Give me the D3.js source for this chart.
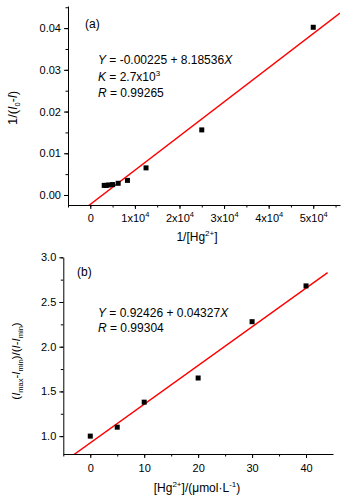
<!DOCTYPE html>
<html>
<head>
<meta charset="utf-8">
<script src="https://cdn.jsdelivr.net/npm/d3@7"></script>
<style>
  body { margin: 0; background: #fff; }
  svg { font-family: "Liberation Sans", Arial, sans-serif; }
</style>
</head>
<body>
<div id="chart"></div>
<script>
// ---- panel (a): double reciprocal plot ----
const recipHg = [3125, 3571, 4167, 5000, 6250, 8333, 12500, 25000, 50000];
const recipI = [0.0023, 0.0023, 0.0024, 0.0025, 0.0028, 0.0035, 0.0065, 0.0156, 0.0402];
const fitA = { intercept: -0.00225, slope: 8.18536e-7 };
const xTicksA = [0, 10000, 20000, 30000, 40000, 50000];
const yTicksA = [0.00, 0.01, 0.02, 0.03, 0.04];

// ---- panel (b): linear plot ----
const hgConc = [0, 5, 10, 20, 30, 40];
const ratioI = [1.00, 1.10, 1.38, 1.65, 2.28, 2.68];
const fitB = { intercept: 0.92426, slope: 0.04327 };
const xTicksB = [0, 10, 20, 30, 40];
const yTicksB = [1.0, 1.5, 2.0, 2.5, 3.0];

const W = 345, H = 502;
const svg = d3.select("#chart").append("svg").attr("width", W).attr("height", H);

function panel(o) {
  const x = d3.scaleLinear().domain(o.xDomain).range([o.left, o.right]);
  const y = d3.scaleLinear().domain(o.yDomain).range([o.bottom, o.top]);
  const g = svg.append("g");

  // minor ticks (only inside the axis range)
  const inside = (v, dom) => v >= dom[0] - 1e-9 && v <= dom[1] + 1e-9;
  const xMinor = d3.range(o.xMinor[0], o.xDomain[1], o.xMinor[1]).filter(v => inside(v, o.xDomain));
  const yMinor = d3.range(o.yMinor[0], o.yDomain[1] + 1e-9, o.yMinor[1]).filter(v => inside(v, o.yDomain));

  g.append("g").attr("transform", `translate(0,${o.bottom})`)
    .call(d3.axisBottom(x).tickValues(xMinor).tickSize(2.5).tickFormat(""))
    .call(a => a.select(".domain").remove());
  g.append("g").attr("transform", `translate(${o.left},0)`)
    .call(d3.axisLeft(y).tickValues(yMinor).tickSize(2.5).tickFormat(""))
    .call(a => a.select(".domain").remove());

  // major ticks + labels
  const xa = g.append("g").attr("transform", `translate(0,${o.bottom})`)
    .call(d3.axisBottom(x).tickValues(o.xTicks).tickSize(4).tickSizeOuter(0).tickPadding(6).tickFormat(""));
  const ya = g.append("g").attr("transform", `translate(${o.left},0)`)
    .call(d3.axisLeft(y).tickValues(o.yTicks).tickSize(4).tickSizeOuter(0).tickPadding(3).tickFormat(o.yFmt));
  [xa, ya].forEach(a => {
    a.selectAll("path,line").attr("stroke", "#000").attr("stroke-width", 1);
    a.selectAll("text").attr("font-size", 11).attr("fill", "#000")
      .attr("font-family", "'Liberation Sans', Arial, sans-serif");
  });
  g.selectAll(".tick line").attr("stroke", "#000");

  // x tick labels (may contain superscripts)
  xa.selectAll(".tick").each(function(d) {
    const t = d3.select(this).append("text")
      .attr("y", o.xLabelY - o.bottom).attr("text-anchor", "middle")
      .attr("font-size", 11).attr("fill", "#000")
      .attr("font-family", "'Liberation Sans', Arial, sans-serif");
    o.xFmt(t, d);
  });

  // fit line, clipped to plot area
  const clipId = "clip" + o.id;
  svg.append("clipPath").attr("id", clipId).append("rect")
    .attr("x", o.left).attr("y", o.top).attr("width", o.right - o.left).attr("height", o.bottom - o.top);
  const line = d3.line().x(d => x(d)).y(d => y(o.fit.intercept + o.fit.slope * d));
  g.append("path").attr("clip-path", `url(#${clipId})`)
    .attr("d", line(o.fitRange))
    .attr("fill", "none").attr("stroke", "#f00").attr("stroke-width", 1.4);

  // data squares
  g.selectAll("rect.pt").data(o.xs).enter().append("rect")
    .attr("class", "pt")
    .attr("x", d => x(d) - 2.5)
    .attr("y", (d, i) => y(o.ys[i]) - 2.5)
    .attr("width", 5).attr("height", 5).attr("fill", "#000");

  return { x, y, g };
}

function sup(t, base, s) {
  t.append("tspan").text(base);
  t.append("tspan").attr("dy", -5).attr("font-size", 7.5).text(s);
}

// ---------- panel (a) ----------
const pa = panel({
  id: "a", left: 68, right: 340, top: 6, bottom: 205,
  xDomain: [-5000, 56000], yDomain: [-0.0024, 0.0453],
  xTicks: xTicksA, yTicks: yTicksA,
  xMinor: [-5000, 5000], yMinor: [-0.005, 0.005],
  yFmt: d3.format(".2f"),
  xFmt: (t, d) => { if (d === 0) t.text("0"); else sup(t, (d / 10000) + "x10", "4"); },
  xLabelY: 222,
  fit: fitA, fitRange: [-5000, 56000],
  xs: recipHg, ys: recipI
});

const ga = pa.g;
ga.append("text").attr("x", 85).attr("y", 28).attr("font-size", 12).text("(a)");
const eqA = [
  [["Y", true], [" = -0.00225 + 8.18536", false], ["X", true]],
  [["K", true], [" = 2.7x10", false], ["3", "sup"]],
  [["R", true], [" = 0.99265", false]]
];
eqA.forEach((parts, i) => {
  const t = ga.append("text").attr("x", 98).attr("y", 64 + i * 16.5).attr("font-size", 12);
  parts.forEach(([s, st]) => {
    const sp = t.append("tspan").text(s);
    if (st === true) sp.attr("font-style", "italic");
    if (st === "sup") sp.attr("dy", -5).attr("font-size", 8);
  });
});
// x label
const xlA = ga.append("text").attr("x", 197).attr("y", 241).attr("text-anchor", "middle").attr("font-size", 12);
xlA.append("tspan").text("1/[Hg");
xlA.append("tspan").attr("dy", -5).attr("font-size", 8).text("2+");
xlA.append("tspan").attr("dy", 5).text("]");
// y label
const ylA = ga.append("text").attr("transform", "translate(17,108) rotate(-90)")
  .attr("text-anchor", "middle").attr("font-size", 12);
ylA.append("tspan").attr("font-size", 13).text("1/(");
ylA.append("tspan").attr("font-style", "italic").text("I");
ylA.append("tspan").attr("dy", 3).attr("font-size", 7.5).text("0");
ylA.append("tspan").attr("dy", -3).text("-");
ylA.append("tspan").attr("font-style", "italic").text("I");
ylA.append("tspan").text(")");

// ---------- panel (b) ----------
const pb = panel({
  id: "b", left: 63.3, right: 333, top: 257.3, bottom: 454,
  xDomain: [-5, 45], yDomain: [0.8, 3.0],
  xTicks: xTicksB, yTicks: yTicksB,
  xMinor: [-5, 5], yMinor: [0.75, 0.25],
  yFmt: d3.format(".1f"),
  xFmt: (t, d) => t.text(d),
  xLabelY: 472,
  fit: fitB, fitRange: [-5, 44],
  xs: hgConc, ys: ratioI
});

const gb = pb.g;
gb.append("text").attr("x", 77).attr("y", 276).attr("font-size", 12).text("(b)");
const eqB = [
  [["Y", true], [" = 0.92426 + 0.04327", false], ["X", true]],
  [["R", true], [" = 0.99304", false]]
];
eqB.forEach((parts, i) => {
  const t = gb.append("text").attr("x", 98).attr("y", 317 + i * 15).attr("font-size", 12);
  parts.forEach(([s, st]) => {
    const sp = t.append("tspan").text(s);
    if (st === true) sp.attr("font-style", "italic");
  });
});
const xlB = gb.append("text").attr("x", 197).attr("y", 492).attr("text-anchor", "middle").attr("font-size", 12);
xlB.append("tspan").text("[Hg");
xlB.append("tspan").attr("dy", -5).attr("font-size", 8).text("2+");
xlB.append("tspan").attr("dy", 5).text("]/(\u03bcmol\u00b7L");
xlB.append("tspan").attr("dy", -5).attr("font-size", 8).text("-1");
xlB.append("tspan").attr("dy", 5).text(")");

const ylB = gb.append("text").attr("transform", "translate(20,361) rotate(-90)")
  .attr("text-anchor", "middle").attr("font-size", 11.5);
ylB.append("tspan").text("(");
ylB.append("tspan").attr("font-style", "italic").text("I");
ylB.append("tspan").attr("dy", 3).attr("font-size", 7.5).text("max");
ylB.append("tspan").attr("dy", -3).text("-");
ylB.append("tspan").attr("font-style", "italic").text("I");
ylB.append("tspan").attr("dy", 3).attr("font-size", 7.5).text("min");
ylB.append("tspan").attr("dy", -3).text(")/(");
ylB.append("tspan").attr("font-style", "italic").text("I");
ylB.append("tspan").text("-");
ylB.append("tspan").attr("font-style", "italic").text("I");
ylB.append("tspan").attr("dy", 3).attr("font-size", 7.5).text("min");
ylB.append("tspan").attr("dy", -3).text(")");
</script>
</body>
</html>
